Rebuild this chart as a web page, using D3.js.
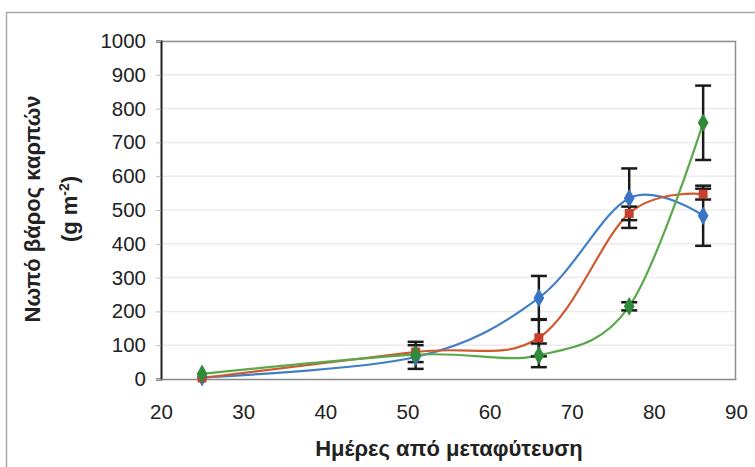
<!DOCTYPE html>
<html>
<head>
<meta charset="utf-8">
<script src="https://cdn.jsdelivr.net/npm/d3@7"></script>
<style>
  body { margin: 0; background: #fff; }
  text { font-family: "Liberation Sans", Arial, sans-serif; }
</style>
</head>
<body>
<div id="chart-area"></div>
<script>
// Data
var days = [25, 51, 66, 77, 86];
var blueValues = [5, 65, 240, 535, 483];
var blueErrors = [0, 35, 65, 88, 89];
var redValues = [3, 80, 122, 490, 547];
var redErrors = [0, 30, 55, 20, 16];
var greenValues = [15, 72, 70, 215, 758];
var greenErrors = [0, 0, 35, 12, 110];
var xTicks = [20, 30, 40, 50, 60, 70, 80, 90];
var yTicks = [0, 100, 200, 300, 400, 500, 600, 700, 800, 900, 1000];

var series = [
    { name: "blue", values: blueValues, errors: blueErrors, line: "#3f7fc6", fill: "#3a74c4", shape: d3.symbolDiamond },
    { name: "red", values: redValues, errors: redErrors, line: "#cf5a30", fill: "#c8402c", shape: d3.symbolSquare },
    { name: "green", values: greenValues, errors: greenErrors, line: "#5aa84a", fill: "#2f8a3a", shape: d3.symbolDiamond }
];

var svgWidth = 755, svgHeight = 467;
var margin = { left: 161, right: 19, top: 41, bottom: 88 };
var width = svgWidth - margin.left - margin.right,
    height = svgHeight - margin.top - margin.bottom;

var svg = d3.select("#chart-area")
    .append("svg")
    .attr("width", svgWidth)
    .attr("height", svgHeight);

// outer frame
svg.append("path")
    .attr("d", "M6.5,467 V12.5 H755")
    .attr("fill", "none")
    .attr("stroke", "#a8a8a8")
    .attr("stroke-width", 1.5);

var g = svg.append("g")
    .attr("transform", "translate(" + margin.left + "," + margin.top + ")");

var x = d3.scaleLinear().domain([20, 90]).range([0, width]);
var y = d3.scaleLinear().domain([0, 1000]).range([height, 0]);

// gridlines
g.selectAll(".grid")
    .data(yTicks.slice(1))
    .enter().append("line")
    .attr("class", "grid")
    .attr("x1", 0).attr("x2", width)
    .attr("y1", function(d){ return y(d); })
    .attr("y2", function(d){ return y(d); })
    .attr("stroke", "#ececec")
    .attr("stroke-width", 1.5);

// plot border (top + right)
g.append("path")
    .attr("d", "M0," + 0.5 + " H" + (width - 0.5) + " V" + height)
    .attr("fill", "none")
    .attr("stroke", "#8a9096")
    .attr("stroke-width", 1.5);

// Y axis
var yAxisCall = d3.axisLeft(y).tickValues(yTicks).tickFormat(d3.format("d")).tickSize(5).tickPadding(10);
var yAxis = g.append("g").attr("class", "y axis").call(yAxisCall);
yAxis.select(".domain").attr("stroke", "#222").attr("stroke-width", 2);
yAxis.selectAll(".tick line").attr("stroke", "#bbb");
yAxis.selectAll("text")
    .attr("font-size", "20.5px")
    .attr("fill", "#222");

// X axis
var xAxisCall = d3.axisBottom(x).tickValues(xTicks).tickSize(0).tickPadding(25);
var xAxis = g.append("g")
    .attr("class", "x axis")
    .attr("transform", "translate(0," + height + ")")
    .call(xAxisCall);
xAxis.select(".domain").attr("stroke", "#888").attr("stroke-width", 1.5);
xAxis.selectAll("text")
    .attr("font-size", "20.5px")
    .attr("fill", "#222");

// Labels
g.append("text")
    .attr("x", 449 - margin.left)
    .attr("y", 456 - margin.top)
    .attr("font-size", "22px")
    .attr("font-weight", "bold")
    .attr("fill", "#222")
    .attr("text-anchor", "middle")
    .text("Ημέρες από μεταφύτευση");

var yLabel = svg.append("text")
    .attr("transform", "translate(40,209) rotate(-90)")
    .attr("font-size", "22px")
    .attr("font-weight", "bold")
    .attr("fill", "#222")
    .attr("text-anchor", "middle");
yLabel.append("tspan").attr("x", 0).attr("y", 0).text("Νωπό βάρος καρπών");
var line2 = svg.append("text")
    .attr("transform", "translate(77,209) rotate(-90)")
    .attr("font-size", "22px")
    .attr("font-weight", "bold")
    .attr("fill", "#222")
    .attr("text-anchor", "middle");
line2.append("tspan").text("(g m");
line2.append("tspan").attr("dy", -8).attr("font-size", "14px").text("-2");
line2.append("tspan").attr("dy", 8).text(")");

// Lines
var line = d3.line()
    .x(function(d){ return x(d.day); })
    .y(function(d){ return y(d.value); })
    .curve(d3.curveCatmullRom.alpha(0));

series.forEach(function(s) {
    var pts = days.map(function(d, i){ return { day: d, value: s.values[i], err: s.errors[i] }; });
    s.pts = pts;
    g.append("path")
        .attr("class", "line " + s.name)
        .attr("fill", "none")
        .attr("stroke", s.line)
        .attr("stroke-width", 2.2)
        .attr("d", line(pts));
});

// Error bars
series.forEach(function(s) {
    var eb = g.selectAll(".err-" + s.name)
        .data(s.pts.filter(function(d){ return d.err > 0; }))
        .enter().append("g")
        .attr("class", "err-" + s.name);
    eb.append("line")
        .attr("x1", function(d){ return x(d.day); })
        .attr("x2", function(d){ return x(d.day); })
        .attr("y1", function(d){ return y(d.value + d.err); })
        .attr("y2", function(d){ return y(d.value - d.err); })
        .attr("stroke", "#1a1a1a").attr("stroke-width", 2.5);
    [1, -1].forEach(function(sign) {
        eb.append("line")
            .attr("x1", function(d){ return x(d.day) - 8; })
            .attr("x2", function(d){ return x(d.day) + 8; })
            .attr("y1", function(d){ return y(d.value + sign * d.err); })
            .attr("y2", function(d){ return y(d.value + sign * d.err); })
            .attr("stroke", "#1a1a1a").attr("stroke-width", 2.5);
    });
});

// Markers
series.forEach(function(s) {
    g.selectAll(".pt-" + s.name)
        .data(s.pts)
        .enter().append("path")
        .attr("class", "pt-" + s.name)
        .attr("transform", function(d){ return "translate(" + x(d.day) + "," + y(d.value) + ")"; })
        .attr("d", d3.symbol().type(s.shape).size(s.shape === d3.symbolSquare ? 80 : 100))
        .attr("fill", s.fill);
});
</script>
</body>
</html>
